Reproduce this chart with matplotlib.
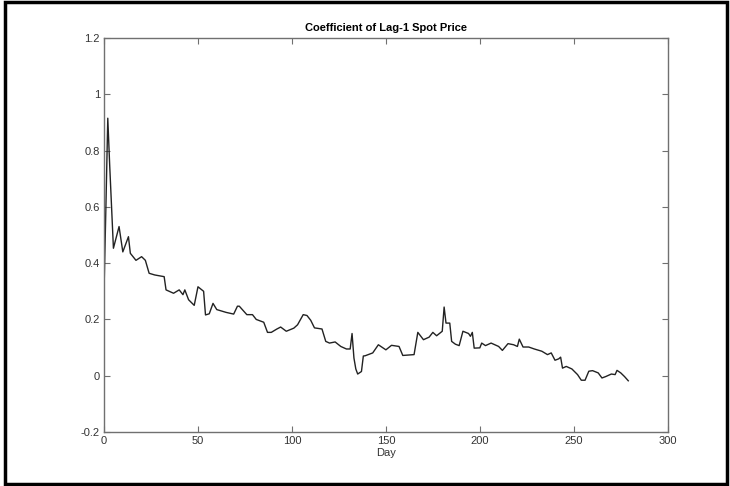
import matplotlib
matplotlib.use("Agg")
import matplotlib.pyplot as plt
from matplotlib.patches import Rectangle

# values (day, coefficient)
days = [0, 1, 2, 3, 5, 8, 10, 13, 14, 17, 20, 22, 24, 27, 32, 33, 37, 40, 42, 43,
        45, 48, 50, 53, 54, 56, 58, 60, 65, 69, 71, 72, 76, 79, 81, 85, 87, 89, 92, 94,
        97, 101, 103, 106, 108, 110, 112, 116, 118, 120, 123, 126, 129, 131, 132, 133,
        134, 135, 137, 138, 139, 143, 146, 150, 153, 157, 159, 165, 167, 170, 173, 175,
        177, 180, 181, 182, 184, 185, 187, 189, 191, 194, 195, 196, 197, 200, 201, 203,
        206, 210, 212, 215, 218, 220, 221, 223, 226, 229, 233, 236, 238, 240, 242, 243,
        244, 246, 249, 252, 254, 256, 258, 260, 263, 265, 267, 270, 272, 273, 275, 277,
        279]
coef = [0.30, 0.60, 0.915, 0.75, 0.453, 0.53, 0.44, 0.494, 0.435, 0.41, 0.423, 0.41,
        0.364, 0.358, 0.352, 0.305, 0.293, 0.305, 0.288, 0.305,
        0.27, 0.25, 0.316, 0.30, 0.216, 0.22, 0.257, 0.235, 0.225, 0.219, 0.247, 0.247,
        0.217, 0.217, 0.20, 0.19, 0.154, 0.154, 0.166, 0.173,
        0.158, 0.169, 0.181, 0.217, 0.214, 0.197, 0.17, 0.166, 0.122, 0.116, 0.12, 0.104,
        0.095, 0.095, 0.15, 0.063,
        0.024, 0.006, 0.015, 0.07, 0.071, 0.081, 0.11, 0.092, 0.108, 0.104, 0.072, 0.075,
        0.154, 0.128, 0.137, 0.154,
        0.142, 0.158, 0.244, 0.187, 0.187, 0.122, 0.112, 0.107, 0.158, 0.15, 0.14, 0.154,
        0.098, 0.099, 0.116, 0.107,
        0.116, 0.104, 0.09, 0.114, 0.11, 0.104, 0.13, 0.102, 0.102, 0.095, 0.087, 0.075,
        0.081, 0.055, 0.06, 0.066,
        0.027, 0.033, 0.024, 0.004, -0.016, -0.016, 0.016, 0.018, 0.01, -0.008, -0.003,
        0.006, 0.004, 0.019, 0.01, -0.003,
        -0.018]

xticks = [0, 50, 100, 150, 200, 250, 300]
yticks = [-0.2, 0, 0.2, 0.4, 0.6, 0.8, 1, 1.2]
ylabels = ["-0.2", "0", "0.2", "0.4", "0.6", "0.8", "1", "1.2"]

plt.rcParams['font.family'] = ['Liberation Sans', 'DejaVu Sans']

fig = plt.figure(figsize=(7.3, 4.86), dpi=100)
ax = fig.add_axes([0.1425, 0.1111, 0.7722, 0.8107])

ax.plot(days, coef, color="#222222", linewidth=1.0)

ax.set_xlim(0, 300)
ax.set_ylim(-0.2, 1.2)
ax.set_xticks(xticks)
ax.set_yticks(yticks)
ax.set_yticklabels(ylabels)
ax.tick_params(direction="in", length=4, width=0.8, color="#707070",
               labelsize=8, labelcolor="#333333", top=True, right=True, pad=3)
for s in ax.spines.values():
    s.set_color("#707070")
    s.set_linewidth(1.0)

ax.set_title("Coefficient of Lag-1 Spot Price", fontsize=8, fontweight="bold", pad=5)
ax.set_xlabel("Day", fontsize=8, color="#333333", labelpad=1)

# outer frame of the picture
fig.patches.append(Rectangle((5 / 730, 2 / 486), 722 / 730, 482 / 486,
                             transform=fig.transFigure, fill=False,
                             edgecolor="black", linewidth=2.5))

fig.savefig("out.png", dpi=100)
